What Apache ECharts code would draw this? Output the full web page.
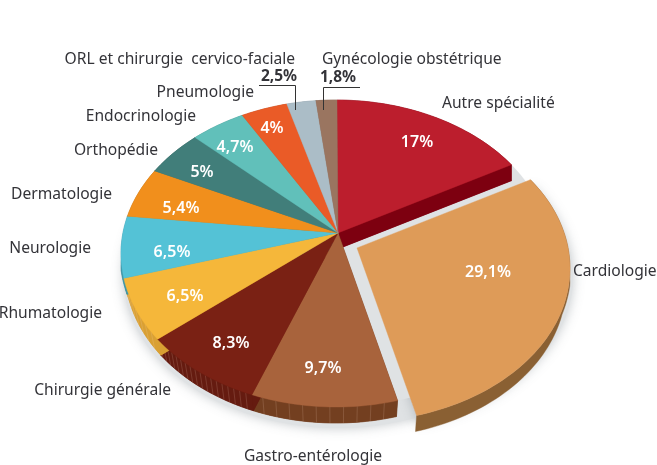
<!DOCTYPE html>
<html>
<head>
<meta charset="utf-8">
<style>html,body{margin:0;padding:0;background:#fff}#c{width:657px;height:465px}</style>
<script src="https://cdn.jsdelivr.net/npm/echarts@6/dist/echarts.min.js"></script>
</head>
<body>
<div id="c"></div>
<script>
// ---- data ----
const categories = ['Autre spécialité','Cardiologie','Gastro-entérologie','Chirurgie générale','Rhumatologie','Neurologie','Dermatologie','Orthopédie','Endocrinologie','Pneumologie','ORL et chirurgie  cervico-faciale','Gynécologie obstétrique'];
const values = [17, 29.1, 9.7, 8.3, 6.5, 6.5, 5.4, 5, 4.7, 4, 2.5, 1.8];

// ---- styles and layout, separate from the data ----
const topColors  = ['#bc1e2d','#de9b58','#a8633c','#7a2114','#f5b73a','#54c2d6','#f18f1c','#417e7a','#61c0ba','#ea5b27','#abbdc7','#9a7560'];
const wallColors = ['#7d0010','#8a6033','#733f20','#651b10','#d9a033','#3f96a6','#b86c14','#2f5c59','#46918c','#b0441c','#83929b','#755848'];
const hatchStep  = [0,0,3.2,1.6,3,0,0,0,0,0,0,0];
const explodeOffset = [[0,0],[19,15]];
const explodedIndex = 1;
const nameAnchors = [[442,104,'left'],[573,272,'left'],[244,457,'left'],[171,391,'right'],[102,314,'right'],[91,249,'right'],[112,195,'right'],[158,151,'right'],[196,117,'right'],[254,93,'right'],[295,60,'right'],[322,60,'left']];
const valueAnchors = [[417,142],[488,272],[323,368],[231,343],[172,252],[185,296],[181,208],[202,172],[235,147],[272,128],[279,77],[338,78]];
const leaders = [[[259,85.5],[295.5,85.5],[295.5,110]],[[360,87.5],[323.5,87.5],[323.5,110]]];
const C = {cx:336, cy:253.5, rx:215, ry:153.5, v0:-0.134, start:0.3, wall:16, taper:0.018};
const FONT = '"Noto Sans", sans-serif';

const total = values.reduce((a,b)=>a+b,0);
const cum = [0];
values.forEach((v,i)=>cum.push(cum[i]+v));

// The circular pie seen in perspective: centre maps to the apex, circle to an ellipse.
function proj(deg){
  const a = deg*Math.PI/180, x = Math.sin(a), y = -Math.cos(a);
  const d = 1 + y*C.v0;
  const u = x*Math.sqrt(1-C.v0*C.v0)/d, v = (y+C.v0)/d;
  return [C.cx+u*C.rx, C.cy+v*C.ry];
}
const apex = [C.cx+2, C.cy+C.v0*C.ry];
function sliceAngles(i){ return [C.start+cum[i]/total*360, C.start+cum[i+1]/total*360]; }
function arc(i){
  const [a,b] = sliceAngles(i), n = Math.max(8, Math.ceil((b-a)/1.5)), pts=[];
  for(let k=0;k<=n;k++) pts.push(proj(a+(b-a)*k/n));
  return pts;
}
const off = (pts,dx,dy)=>pts.map(p=>[p[0]+dx,p[1]+dy]);
const explode = i => i===explodedIndex ? explodeOffset[1] : explodeOffset[0];
function ellipsePts(){ const p=[]; for(let k=0;k<180;k++) p.push(proj(k*2)); return p; }
// lower rim of the extrusion: same arc, dropped, slightly narrower toward the front
function lowered(p){
  const f = 1 - C.taper*Math.max(0,Math.min(1,(p[1]-C.cy)/30));
  return [C.cx+(p[0]-C.cx)*f, p[1]+C.wall];
}

const seriesData = values.map((v,i)=>[v,i]);

function poly(points, fill, extra){
  return {type:'polygon', shape:{points}, style:Object.assign({fill, stroke:fill, lineWidth:0.4}, extra||{}), silent:true};
}
function renderShadow(params, api){
  const i = params.dataIndex;
  if(i!==0) return {type:'group',children:[]};
  const blur = {shadowBlur:12, shadowColor:'rgba(90,100,110,0.35)', stroke:null, lineWidth:0};
  const a = arc(explodedIndex), e = explode(explodedIndex);
  return {type:'group',children:[
    poly(off(ellipsePts(),2,21), '#dfe2e4', blur),
    poly(off([apex].concat(a),e[0]+3,e[1]+8), '#dfe2e4', blur),
    poly(ellipsePts(), '#dfe2e4', {stroke:null,lineWidth:0})
  ]};
}
function renderWall(params, api){
  const i = api.value(1), e = explode(i), raw = arc(i);
  const a = off(raw,e[0],e[1]);
  const lowA = off(raw.map(lowered),e[0],e[1]);
  const col = wallColors[i];
  const kids = [poly(a.concat(lowA.slice().reverse()), col)];
  if(i!==explodedIndex){
    const ap = apex, lowAp = [ap[0],ap[1]+C.wall];
    kids.unshift(poly([lowAp].concat(lowA), col));
    kids.push(poly([ap,a[0],lowA[0],lowAp], col));
    kids.push(poly([ap,a[a.length-1],lowA[lowA.length-1],lowAp], col));
  }
  if(hatchStep[i]){
    const [s,t] = sliceAngles(i);
    for(let d=s+hatchStep[i]; d<t; d+=hatchStep[i]){
      const p = proj(d), q = lowered(p);
      kids.push({type:'line',shape:{x1:p[0],y1:p[1],x2:q[0],y2:q[1]},style:{stroke:'rgba(255,225,200,0.22)',lineWidth:0.7},silent:true});
    }
  }
  return {type:'group',children:kids};
}
function renderTop(params, api){
  const i = api.value(1), e = explode(i), a = off(arc(i),e[0],e[1]), ap = [apex[0]+e[0],apex[1]+e[1]];
  return poly([ap].concat(a), topColors[i]);
}
function textEl(x,y,text,fill,font,align){
  return {type:'text',silent:true,style:{x,y,text,fill,font,align,verticalAlign:'middle'}};
}
function renderLabels(params, api){
  const i = api.value(1), n = nameAnchors[i], v = valueAnchors[i];
  const dark = i>=10;
  const kids = [
    textEl(n[0],n[1],categories[i],'#333338','400 15.6px '+FONT,n[2]),
    textEl(v[0],v[1],String(api.value(0)).replace('.',',')+'%',dark?'#333338':'#ffffff',dark?'700 15.5px '+FONT:'600 16px '+FONT,'center')
  ];
  if(dark){
    kids.push({type:'polyline',silent:true,shape:{points:leaders[i-10]},style:{stroke:'#333333',lineWidth:1,fill:null}});
  }
  return {type:'group',children:kids};
}
const layer = (renderItem,z)=>({type:'custom',coordinateSystem:'none',data:seriesData,encode:{value:0},renderItem,z,silent:true,animation:false,clip:false});

const chart = echarts.init(document.getElementById('c'),null,{renderer:'canvas',width:657,height:465});
chart.setOption({
  backgroundColor:'#ffffff',
  animation:false,
  tooltip:{show:false},
  series:[layer(renderShadow,1),layer(renderWall,2),layer(renderTop,3),layer(renderLabels,4)]
});
</script>
</body>
</html>
